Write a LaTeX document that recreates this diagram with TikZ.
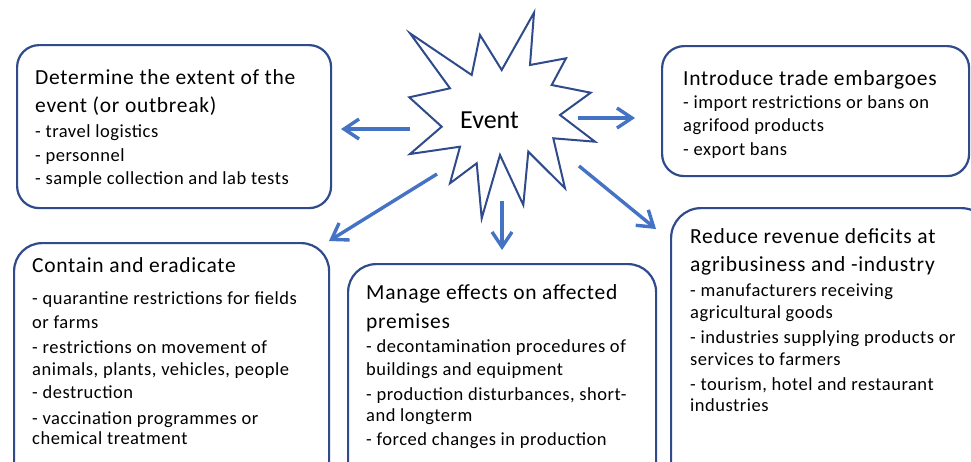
\documentclass[tikz,border=0pt]{standalone}
\usepackage{fontspec}
\setmainfont{Carlito}
\newfontfamily\headfont[LetterSpace=3.3]{Carlito}
\newfontfamily\bodyfont[LetterSpace=2.8]{Carlito}
\usetikzlibrary{arrows.meta}
\definecolor{navy}{RGB}{47,75,140}
\definecolor{arrowblue}{RGB}{68,114,196}
\tikzset{
  boxshape/.style={draw=navy, line width=2.2pt, fill=white, rectangle, inner sep=0pt, anchor=north west},
  headtxt/.style={anchor=base west, inner sep=0pt, font=\headfont\fontsize{21.5pt}{25pt}\selectfont},
  bodytxt/.style={anchor=base west, inner sep=0pt, font=\bodyfont\fontsize{18.5pt}{21pt}\selectfont},
  flow/.style={draw=arrowblue, line width=3.4pt, -{Straight Barb[length=15pt,width=20pt]}},
}
\begin{document}
\begin{tikzpicture}[x=1pt,y=-1pt]
\useasboundingbox (0,0) rectangle (971,461);
\clip (0,0) rectangle (971,461);
\fill[white] (0,0) rectangle (971,461);

% boxes
\node[boxshape, rounded corners=22pt, minimum width=314pt, minimum height=163pt] (b1) at (16,44) {};
\node[boxshape, rounded corners=22pt, minimum width=307pt, minimum height=130pt] (b2) at (661,45) {};
\node[boxshape, rounded corners=28pt, minimum width=315pt, minimum height=260pt] (b3) at (13,242) {};
\node[boxshape, rounded corners=28pt, minimum width=308pt, minimum height=240pt] (b4) at (347,263) {};
\node[boxshape, rounded corners=30pt, minimum width=320pt, minimum height=300pt] (b5) at (670,207) {};

% box 1 text
\node[headtxt] (t11) at (35,84) {Determine the extent of the};
\node[headtxt] (t12) at (35,112) {event (or outbreak)};
\node[bodytxt] (t13) at (35,137) {- travel logistics};
\node[bodytxt] (t14) at (35,161.5) {- personnel};
\node[bodytxt] (t15) at (35,184.5) {- sample collection and lab tests};

% box 2 text
\node[headtxt] (t21) at (683,85) {Introduce trade embargoes};
\node[bodytxt] (t22) at (683,108.5) {- import restrictions or bans on};
\node[bodytxt] (t23) at (683,131.5) {agrifood products};
\node[bodytxt] (t24) at (683,155) {- export bans};

% box 3 text
\node[headtxt] (t31) at (32,272.5) {Contain and eradicate};
\node[bodytxt] (t32) at (32,304) {- quarantine restrictions for fields};
\node[bodytxt] (t33) at (32,328.5) {or farms};
\node[bodytxt] (t34) at (32,353.5) {- restrictions on movement of};
\node[bodytxt] (t35) at (32,375) {animals, plants, vehicles, people};
\node[bodytxt] (t36) at (32,398.5) {- destruction};
\node[bodytxt] (t37) at (32,424) {- vaccination programmes or};
\node[bodytxt] (t38) at (32,444) {chemical treatment};

% box 4 text
\node[headtxt] (t41) at (366,299.5) {Manage effects on affected};
\node[headtxt] (t42) at (366,328.5) {premises};
\node[bodytxt] (t43) at (366,352.5) {- decontamination procedures of};
\node[bodytxt] (t44) at (366,375) {buildings and equipment};
\node[bodytxt] (t45) at (366,400) {- production disturbances, short-};
\node[bodytxt] (t46) at (366,421.5) {and longterm};
\node[bodytxt] (t47) at (366,445) {- forced changes in production};

% box 5 text
\node[headtxt] (t51) at (690,243.5) {Reduce revenue deficits at};
\node[headtxt] (t52) at (690,271.5) {agribusiness and -industry};
\node[bodytxt] (t53) at (690,296.5) {- manufacturers receiving};
\node[bodytxt] (t54) at (690,318.5) {agricultural goods};
\node[bodytxt] (t55) at (690,343.5) {- industries supplying products or};
\node[bodytxt] (t56) at (690,365) {services to farmers};
\node[bodytxt] (t57) at (690,390) {- tourism, hotel and restaurant};
\node[bodytxt] (t58) at (690,411.5) {industries};

% star
\draw[navy, line width=2pt, fill=white, line join=miter]
  (410,33.3) -- (471.7,75) -- (480,35) -- (501.7,70) -- (534,12.7) -- (530,65)
  -- (566,58.3) -- (551.7,85) -- (590.7,92.7) -- (560,115) -- (595,141.7)
  -- (553.3,138.3) -- (565,188.3) -- (528.3,151.7) -- (523.3,205) -- (500,155)
  -- (481.7,218.3) -- (476.7,163.3) -- (450,183.3) -- (460,146.7) -- (410,154)
  -- (441.7,126.7) -- (409.3,97.3) -- (450,88.3) -- cycle;
\node[anchor=base west, inner sep=0pt, font=\fontsize{26pt}{30pt}\selectfont] (ev) at (460,128.3) {Event};

% arrow endpoints
\coordinate (sL) at (410,129);   \coordinate (eL) at (341,129);
\coordinate (sR) at (578,118);   \coordinate (eR) at (635,118);
\coordinate (sDL) at (437,174);  \coordinate (eDL) at (329,241);
\coordinate (sD) at (502,201);   \coordinate (eD) at (502,250);
\coordinate (sDR) at (579,166);  \coordinate (eDR) at (656,229);

\draw[flow] (sL) -- (eL);
\draw[flow] (sR) -- (eR);
\draw[flow] (sDL) -- (eDL);
\draw[flow] (sD) -- (eD);
\draw[flow] (sDR) -- (eDR);
\end{tikzpicture}
\end{document}
